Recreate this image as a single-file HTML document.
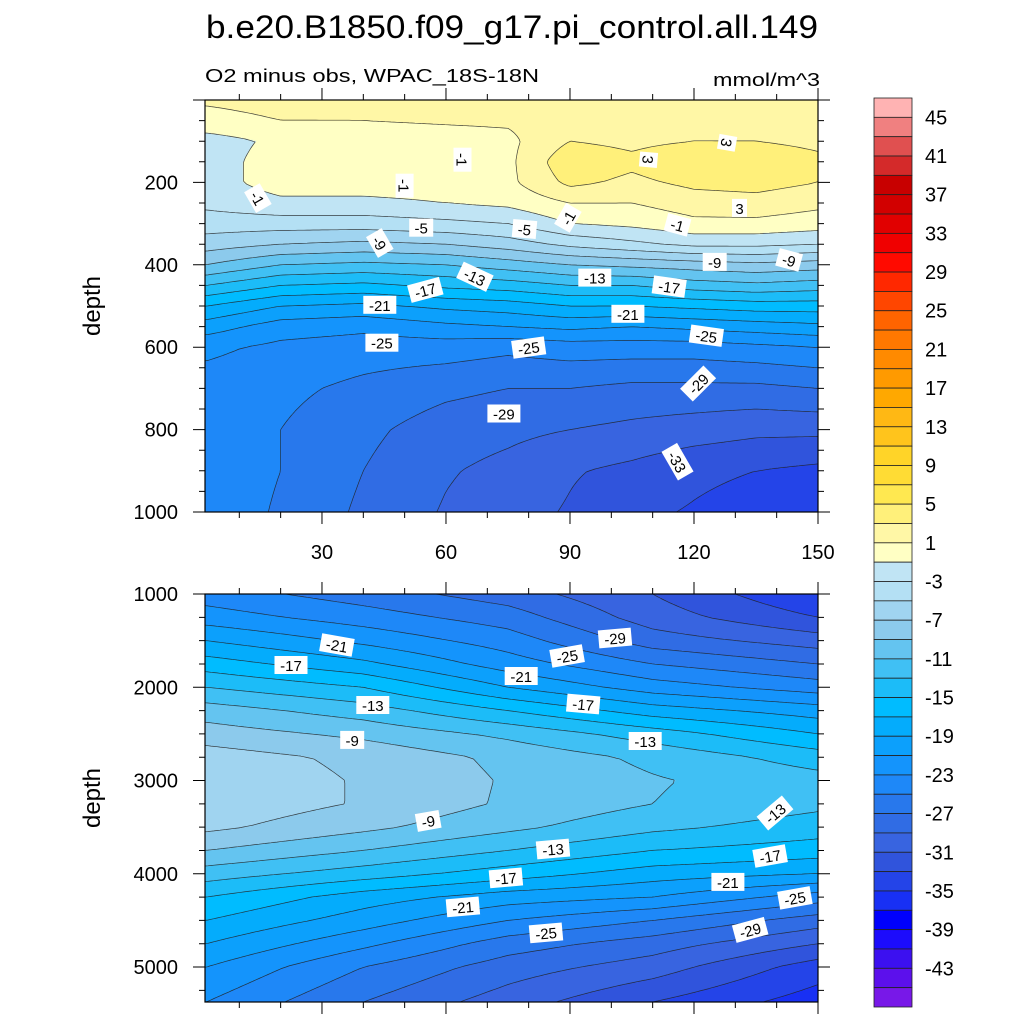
<!DOCTYPE html>
<html><head><meta charset="utf-8"><style>
html,body{margin:0;padding:0;background:#fff;}
#wrap{position:relative;width:1024px;height:1024px;overflow:hidden;}
canvas,svg{position:absolute;left:0;top:0;}
text{font-family:"Liberation Sans",sans-serif;}
</style></head><body>
<div id="wrap">
<canvas id="cv" width="1024" height="1024"></canvas>
<svg id="sv" width="1024" height="1024" xmlns="http://www.w3.org/2000/svg"></svg>
</div>
<script>
// ---- data ----
const lats = [2, 20, 40, 60, 75, 90, 105, 120, 135, 150];
const topDepths = [0, 50, 100, 150, 200, 250, 300, 350, 400, 450, 500, 550, 600, 700, 800, 900, 1000];
const topVals = [
 [1.2,1.5,1.5,1.5,2,2,2,2,1.8,1.5],
 [0.5,1,1,1.2,1.3,2,2,2,2,1.5],
 [-2,-0.5,0,0.2,0.5,3,2.5,3,3,2.5],
 [-2,0,0.5,0.5,0.5,4.5,3.5,4.8,4.5,3.5],
 [-2,0,0,0,0.5,3.5,2.5,3.5,3.8,3],
 [-2.5,-1.5,-1.5,-1,-0.5,1,1,2,2.2,1.5],
 [-4,-4,-4,-3.5,-3,-1,-0.5,0.5,0.5,0],
 [-6,-7,-7.5,-7,-6,-4.5,-3.5,-2.5,-2.5,-3],
 [-9,-11,-11.5,-11,-10,-9,-8.5,-8,-7.5,-8],
 [-13,-15,-15.5,-14.5,-14,-13,-13,-12,-11.5,-12],
 [-17,-19,-19.5,-18.5,-18,-17,-17,-16.5,-16,-16],
 [-20,-22,-22.5,-21.5,-21,-20.5,-21,-20.5,-20,-19.5],
 [-22.5,-23.5,-24,-24,-24.5,-24,-24,-24,-23.5,-23],
 [-24,-24.5,-25.5,-26.5,-27,-27,-27.5,-27.5,-27.5,-27],
 [-24,-25,-26.5,-28,-28.5,-29,-29.5,-30,-30.5,-30.5],
 [-24,-25,-27,-28.8,-29.6,-30.8,-31.5,-32.5,-33,-33.5],
 [-24,-25.2,-27.4,-29.2,-30.2,-31.2,-32.5,-33.2,-34,-34.5]
];
const botLats = [2, 40, 75, 110, 150];
const botDepths = [1000,1250,1500,1750,2000,2250,2500,2750,3000,3250,3500,3750,4000,4250,4500,4750,5000,5375];
const botVals = [
 [-24,-26,-28,-31,-35],
 [-22,-24,-26,-30,-33],
 [-19,-21.5,-24,-28,-30],
 [-16,-18.5,-22,-25,-27],
 [-13,-15,-19,-22,-24],
 [-10,-12,-15,-18,-20],
 [-8,-9.5,-11.5,-14,-17],
 [-6,-7.5,-9.5,-11.5,-14],
 [-5.5,-7.2,-9.2,-10.8,-12.2],
 [-5.5,-7.2,-9.3,-11,-12.5],
 [-6.5,-8.5,-10.5,-12.5,-14],
 [-9,-11,-13,-15,-16],
 [-12,-14,-16,-18,-19],
 [-15,-18,-20,-21,-24],
 [-17,-20,-23,-25,-28],
 [-19,-22.5,-26,-28,-31],
 [-21,-25,-28,-30,-34],
 [-23,-27,-30,-33,-36]
];
const levels = []; for (let v = 45; v >= -45; v -= 2) levels.push(v);
const barColors = ["#ffb3b3","#f08080","#e05050","#d42a2a","#c80000","#d20000","#e10000","#f00000","#ff0a00","#ff2800","#ff4600","#ff6400","#ff7800","#ff8a00","#ff9a00","#ffa800","#ffb814","#ffc41c","#ffd428","#ffdc34","#ffe850","#fff07a","#fff7a6","#ffffc4","#c0e4f4","#b4e0f4","#a0d4f0","#8ccaec","#64c4f0","#40c0f4","#1cbcf8","#00bcff","#04acfc","#0ca0fc","#1494fc","#1e88f8","#2878ec","#306ce4","#3864e0","#3054dc","#2444e8","#1830f4","#0000fc","#1c0cfc","#3c10f0","#5c10ec","#7818e8"];
const barLabels = ["45","41","37","33","29","25","21","17","13","9","5","1","-3","-7","-11","-15","-19","-23","-27","-31","-35","-39","-43"];
const topTicks = [200,400,600,800,1000];
const botTicks = [1000,2000,3000,4000,5000];
const xTicks = [30,60,90,120,150];
// contour labels: [lat, depth, text, angle]
const topLabels = [[14.5,238,"-1",60],[50,208,"-1",90],[64,145,"-1",90],[109,145,"3",95],[128,104,"3",100],[131,262,"3",0],[89.5,286,"-1",-60],[116,303,"-1",15],[54,310,"-5",0],[79,313,"-5",5],[44,347,"-9",60],[125,393,"-9",0],[143,388,"-9",15],[67,429,"-13",25],[96,431,"-13",0],[55,461,"-17",-15],[114,453,"-17",8],[44,497,"-21",0],[104,519,"-21",0],[44.5,589,"-25",0],[80,601,"-25",-8],[123,572,"-25",8],[74,761,"-29",0],[121,688,"-29",-45],[116,878,"-33",60]];
const botLabels = [[33.6,1547,"-21",10],[22.5,1761,"-17",0],[42.3,2190,"-13",0],[37.3,2565,"-9",0],[89.3,1665,"-25",-10],[78.2,1879,"-21",0],[100.9,1472,"-29",-5],[93.2,2179,"-17",5],[108.2,2576,"-13",0],[139.6,3348,"-13",-40],[55.7,3433,"-9",-10],[85.9,3734,"-13",-5],[74.5,4044,"-17",-5],[138.4,3809,"-17",-10],[64.1,4355,"-21",-5],[128.2,4087,"-21",0],[84.2,4634,"-25",-5],[144.4,4259,"-25",-10],[133.6,4602,"-29",-15]];

// ---- layout ----
const PX0 = 205, PX1 = 818, LAT0 = 1.7, LAT1 = 150;
const xs = lat => PX0 + (lat - LAT0) / (LAT1 - LAT0) * (PX1 - PX0);
const xinv = px => LAT0 + (px - PX0) / (PX1 - PX0) * (LAT1 - LAT0);
const panels = [
 {y0:100,y1:512,d0:0,d1:1000,lats:lats,depths:topDepths,vals:topVals,ticks:topTicks,minor:50,labels:topLabels,name:"top"},
 {y0:594,y1:1002,d0:1000,d1:5375,lats:botLats,depths:botDepths,vals:botVals,ticks:botTicks,minor:250,labels:botLabels,name:"bottom"}
];
panels.forEach(p=>{
 const k=(p.y1-p.y0)/(p.d1-p.d0);
 p.ys = d => p.y0 + (d - p.d0) * k;
 p.yinv = py => p.d0 + (py - p.y0) / k;
});
function locate(arr,v){let i=0;while(i<arr.length-2&&v>arr[i+1])i++;let t=(v-arr[i])/(arr[i+1]-arr[i]);t=Math.max(0,Math.min(1,t));return [i,t];}
function field(p,lat,d){const [i,ti]=locate(p.lats,lat);const [j,tj]=locate(p.depths,d);const V=p.vals;
 const a=V[j][i]*(1-ti)+V[j][i+1]*ti, b=V[j+1][i]*(1-ti)+V[j+1][i+1]*ti; return a*(1-tj)+b*tj;}
function bin(v){let c=0;for(const b of levels) if(b>v) c++; return c;}
function hex(h){return [parseInt(h.substr(1,2),16),parseInt(h.substr(3,2),16),parseInt(h.substr(5,2),16)];}
const rgb = barColors.map(hex);

// ---- fill ----
const ctx = document.getElementById('cv').getContext('2d');
const img = ctx.createImageData(1024,1024);
for(let i=0;i<img.data.length;i+=4){img.data[i]=255;img.data[i+1]=255;img.data[i+2]=255;img.data[i+3]=255;}
panels.forEach(p=>{
 for(let py=p.y0;py<p.y1;py++){const d=p.yinv(py+0.5);
  for(let px=PX0;px<PX1;px++){const v=field(p,xinv(px+0.5),d);const c=rgb[bin(v)];const o=(py*1024+px)*4;
   img.data[o]=c[0];img.data[o+1]=c[1];img.data[o+2]=c[2];}}
});
ctx.putImageData(img,0,0);

// ---- svg ----
const NS="http://www.w3.org/2000/svg";
const sv=document.getElementById('sv');
function el(tag,attrs,parent,txt){const e=document.createElementNS(NS,tag);for(const k in attrs)e.setAttribute(k,attrs[k]);if(txt!==undefined)e.textContent=txt;(parent||sv).appendChild(e);return e;}

const title=el('text',{x:512,y:38,'text-anchor':'middle','font-size':32,textLength:612,lengthAdjust:'spacingAndGlyphs'},sv,"b.e20.B1850.f09_g17.pi_control.all.149");


const sub=el('text',{x:205,y:82,'font-size':18,textLength:334,lengthAdjust:'spacingAndGlyphs'},sv,"O2 minus obs, WPAC_18S-18N");


const unit=el('text',{x:820,y:86,'font-size':18,'text-anchor':'end',textLength:107,lengthAdjust:'spacingAndGlyphs'},sv,"mmol/m^3");



panels.forEach(p=>{
 const g=el('g',{});
 
 
 const step=3; const nx=Math.ceil((PX1-PX0)/step)+1, ny=Math.ceil((p.y1-p.y0)/step)+1;
 const G=[];for(let j=0;j<ny;j++){const row=[];const py=Math.min(p.y1,p.y0+j*step);const d=p.yinv(py);
  for(let i=0;i<nx;i++){const px=Math.min(PX1,PX0+i*step);row.push(field(p,xinv(px),d));}G.push(row);}
 let dstr="";
 const gx=i=>Math.min(PX1,PX0+i*step), gy=j=>Math.min(p.y1,p.y0+j*step);
 levels.forEach(L=>{
  for(let j=0;j<ny-1;j++)for(let i=0;i<nx-1;i++){
   const a=G[j][i],b=G[j][i+1],c=G[j+1][i+1],dd=G[j+1][i];
   const pts=[];
   const e=(v1,v2,x1,y1,x2,y2)=>{if((v1>L)!==(v2>L)){const t=(L-v1)/(v2-v1);pts.push([x1+(x2-x1)*t,y1+(y2-y1)*t]);}};
   e(a,b,gx(i),gy(j),gx(i+1),gy(j));
   e(b,c,gx(i+1),gy(j),gx(i+1),gy(j+1));
   e(c,dd,gx(i+1),gy(j+1),gx(i),gy(j+1));
   e(dd,a,gx(i),gy(j+1),gx(i),gy(j));
   for(let k=0;k+1<pts.length;k+=2)dstr+="M"+pts[k][0].toFixed(1)+" "+pts[k][1].toFixed(1)+"L"+pts[k+1][0].toFixed(1)+" "+pts[k+1][1].toFixed(1);
  }
 });
 const cl=el('path',{d:dstr,stroke:'#222',fill:'none','stroke-width':0.7,opacity:0.85},g);
 
 
 p.labels.forEach(l=>{
  const x=xs(l[0]), y=p.ys(l[1]);
  const lg=el('g',{transform:`translate(${x.toFixed(1)},${y.toFixed(1)}) rotate(${l[3]})`},g);
  
  
  const w=l[2].length*9+6;
  el('rect',{x:-w/2,y:-9,width:w,height:18,fill:'#fff'},lg);
  el('text',{x:0,y:6,'text-anchor':'middle','font-size':15},lg,l[2]);
 });
 const fr=el('rect',{x:PX0,y:p.y0,width:PX1-PX0,height:p.y1-p.y0,fill:'none',stroke:'#000','stroke-width':1.2},g);
 
 
 let td="";
 for(let d=p.d0;d<=p.d1;d+=p.minor){const y=p.ys(d);const major=(d%1000===0&&p.name==="bottom")||(d%200===0&&p.name==="top");const len=major?12:6;
  td+=`M${PX0} ${y}h${-len}M${PX1} ${y}h${len}`;}
 for(let x=10;x<=150;x+=10){const px=xs(x);const len=(x%30===0)?12:6;td+=`M${px} ${p.y0}v${-len}M${px} ${p.y1}v${len}`;}
 const tk=el('path',{d:td,stroke:'#000','stroke-width':1,fill:'none'},g);
 
 
 p.ticks.forEach(t=>{const tl=el('text',{x:178,y:p.ys(t)+7,'text-anchor':'end','font-size':20},g,String(t));
  
  });
 const yt=el('text',{x:0,y:0,transform:`translate(100,${(p.y0+p.y1)/2}) rotate(-90)`,'text-anchor':'middle','font-size':24},g,"depth");
 
 
});
xTicks.forEach(t=>{const tl=el('text',{x:xs(t),y:559,'text-anchor':'middle','font-size':20},sv,String(t));
 
 });

const cb=el('g',{});


const CB0=98, CB1=1007, bh=(CB1-CB0)/barColors.length;
barColors.forEach((c,i)=>{const r=el('rect',{x:874,y:CB0+i*bh,width:38,height:bh,fill:c,stroke:'#222','stroke-width':0.8},cb);
 
 });
barLabels.forEach((t,k)=>{const y=CB0+(2*k+1)*bh;const tl=el('text',{x:925,y:y+7,'font-size':20},cb,t);
 
 });
</script>
</body></html>
